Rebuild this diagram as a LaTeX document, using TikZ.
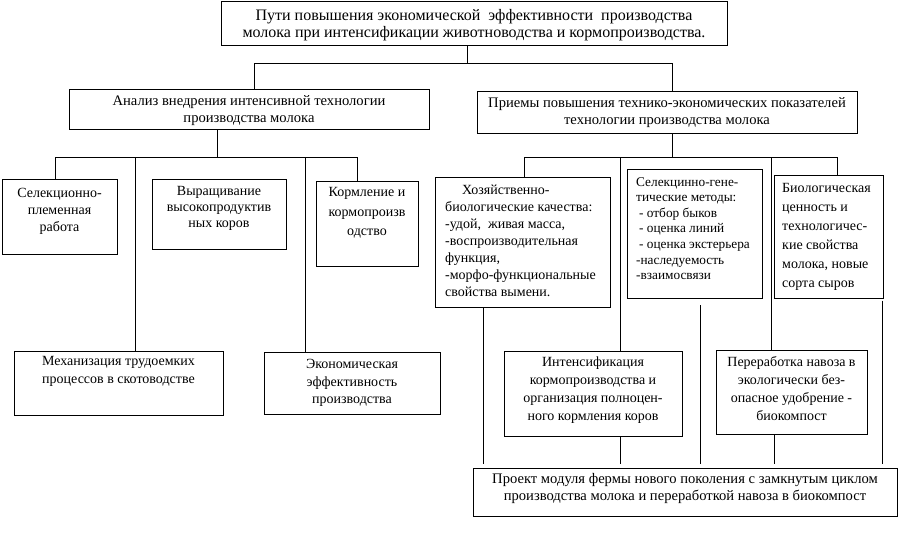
\documentclass[tikz,border=0pt]{standalone}
\usepackage{fontspec}
\setmainfont{Liberation Serif}
\begin{document}
\begin{tikzpicture}[x=1pt,y=-1pt,
  box/.style={draw, line width=1pt, inner sep=0pt},
  txt/.style={inner sep=0pt, align=center, font=\fontsize{14}{17.5}\selectfont},
  ltxt/.style={inner sep=0pt, align=left, anchor=west, font=\fontsize{14}{17}\selectfont},
  conn/.style={line width=1pt}]
\useasboundingbox[fill=white] (0,0) rectangle (903,533);

% boxes
\node[box, minimum width=506pt, minimum height=44pt] (top) at (474,23) {};
\node[box, minimum width=360pt, minimum height=40pt] (anal) at (249,109) {};
\node[box, minimum width=380pt, minimum height=42pt] (prie) at (667,112) {};
\node[box, minimum width=115pt, minimum height=75pt] (sel) at (59.5,216.5) {};
\node[box, minimum width=134pt, minimum height=70pt] (vyr) at (219,214) {};
\node[box, minimum width=102pt, minimum height=85pt] (korm) at (367,223.5) {};
\node[box, minimum width=209pt, minimum height=64pt] (mech) at (118.5,383) {};
\node[box, minimum width=176pt, minimum height=62pt] (econ) at (352,383) {};
\node[box, minimum width=175pt, minimum height=130pt] (hoz) at (522.5,242) {};
\node[box, minimum width=135pt, minimum height=129pt] (selgen) at (694.5,233.5) {};
\node[box, minimum width=109pt, minimum height=123pt] (bio) at (828.5,236.5) {};
\node[box, minimum width=178pt, minimum height=85pt] (intens) at (593,393.5) {};
\node[box, minimum width=151pt, minimum height=84pt] (perer) at (791.5,392) {};
\node[box, minimum width=424pt, minimum height=48pt] (proj) at (685,492) {};

% texts
\node[txt, font=\fontsize{16}{17}\selectfont] (top-t) at (474,25) {Пути повышения экономической\ \ эффективности\ \ производства\\молока при интенсификации животноводства и кормопроизводства.};
\node[txt, font=\fontsize{14.6}{17}\selectfont] (anal-t) at (249,110.5) {Анализ внедрения интенсивной технологии\\производства молока};
\node[txt, font=\fontsize{14.6}{17}\selectfont] (prie-t) at (667,112.5) {Приемы повышения технико-экономических показателей\\технологии производства молока};
\node[txt, font=\fontsize{14}{17}\selectfont] (sel-t) at (59.5,211) {Селекционно-\\племенная\\работа};
\node[txt, font=\fontsize{14}{16}\selectfont] (vyr-t) at (219,208) {Выращивание\\высокопродуктив\\ных коров};
\node[txt, font=\fontsize{14}{19.5}\selectfont] (korm-t) at (367,213) {Кормление и\\кормопроизв\\одство};
\node[txt] (mech-t) at (118.5,371.5) {Механизация трудоемких\\процессов в скотоводстве};
\node[txt] (econ-t) at (352,383) {Экономическая\\эффективность\\производства};
\node[ltxt] (hoz-t) at (445,241) {\hspace*{17pt}Хозяйственно-\\биологические качества:\\-удой,\ \ живая масса,\\-воспроизводительная\\функция,\\-морфо-функциональные\\свойства вымени.};
\node[ltxt, font=\fontsize{13.3}{15.6}\selectfont] (selgen-t) at (636,228.5) {Селекцинно-гене-\\тические методы:\\\hspace*{3pt}- отбор быков\\\hspace*{3pt}- оценка линий\\\hspace*{3pt}- оценка экстерьера\\-наследуемость\\-взаимосвязи};
\node[ltxt, font=\fontsize{14}{19}\selectfont] (bio-t) at (782,237) {Биологическая\\ценность и\\технологичес-\\кие свойства\\молока, новые\\сорта сыров};
\node[txt, font=\fontsize{14}{18}\selectfont] (intens-t) at (593,390) {Интенсификация\\кормопроизводства и\\организация полноцен-\\ного кормления коров};
\node[txt, font=\fontsize{14}{18}\selectfont] (perer-t) at (791.5,389) {Переработка навоза в\\экологически без-\\опасное удобрение -\\биокомпост};
\node[txt, font=\fontsize{14.6}{17}\selectfont] (proj-t) at (685,488.5) {Проект модуля фермы нового поколения с замкнутым циклом\\производства молока и переработкой навоза в биокомпост};

% junction coordinates
\coordinate (tj) at (467,63);
\coordinate (tl) at (254,63);
\coordinate (tr) at (672,63);
\coordinate (lj) at (217,157);
\coordinate (l1) at (55,157);
\coordinate (l2) at (135,157);
\coordinate (l3) at (305,157);
\coordinate (l4) at (357,157);
\coordinate (rj) at (672,157);
\coordinate (r1) at (524,157);
\coordinate (r2) at (620,157);
\coordinate (r3) at (771,157);
\coordinate (r4) at (837,157);
\coordinate (b1) at (483,464);
\coordinate (b2) at (620,464);
\coordinate (s3) at (700,305);
\coordinate (b3) at (700,464);
\coordinate (b4) at (774,464);
\coordinate (b5) at (882,464);

% connectors
\draw[conn] (top.south -| tj) -- (tj);
\draw[conn] (anal.north -| tl) -- (tl) -- (tr) -- (prie.north -| tr);
\draw[conn] (anal.south -| lj) -- (lj);
\draw[conn] (sel.north -| l1) -- (l1) -- (l4) -- (korm.north -| l4);
\draw[conn] (l2) -- (mech.north -| l2);
\draw[conn] (l3) -- (econ.north -| l3);
\draw[conn] (prie.south -| rj) -- (rj);
\draw[conn] (hoz.north -| r1) -- (r1) -- (r4) -- (bio.north -| r4);
\draw[conn] (r2) -- (intens.north -| r2);
\draw[conn] (r3) -- (perer.north -| r3);
\draw[conn] (hoz.south -| b1) -- (b1);
\draw[conn] (intens.south -| b2) -- (b2);
\draw[conn] (s3) -- (b3);
\draw[conn] (perer.south -| b4) -- (b4);
\draw[conn] ([yshift=-2pt]bio.south -| b5) -- (b5);
\end{tikzpicture}
\end{document}
